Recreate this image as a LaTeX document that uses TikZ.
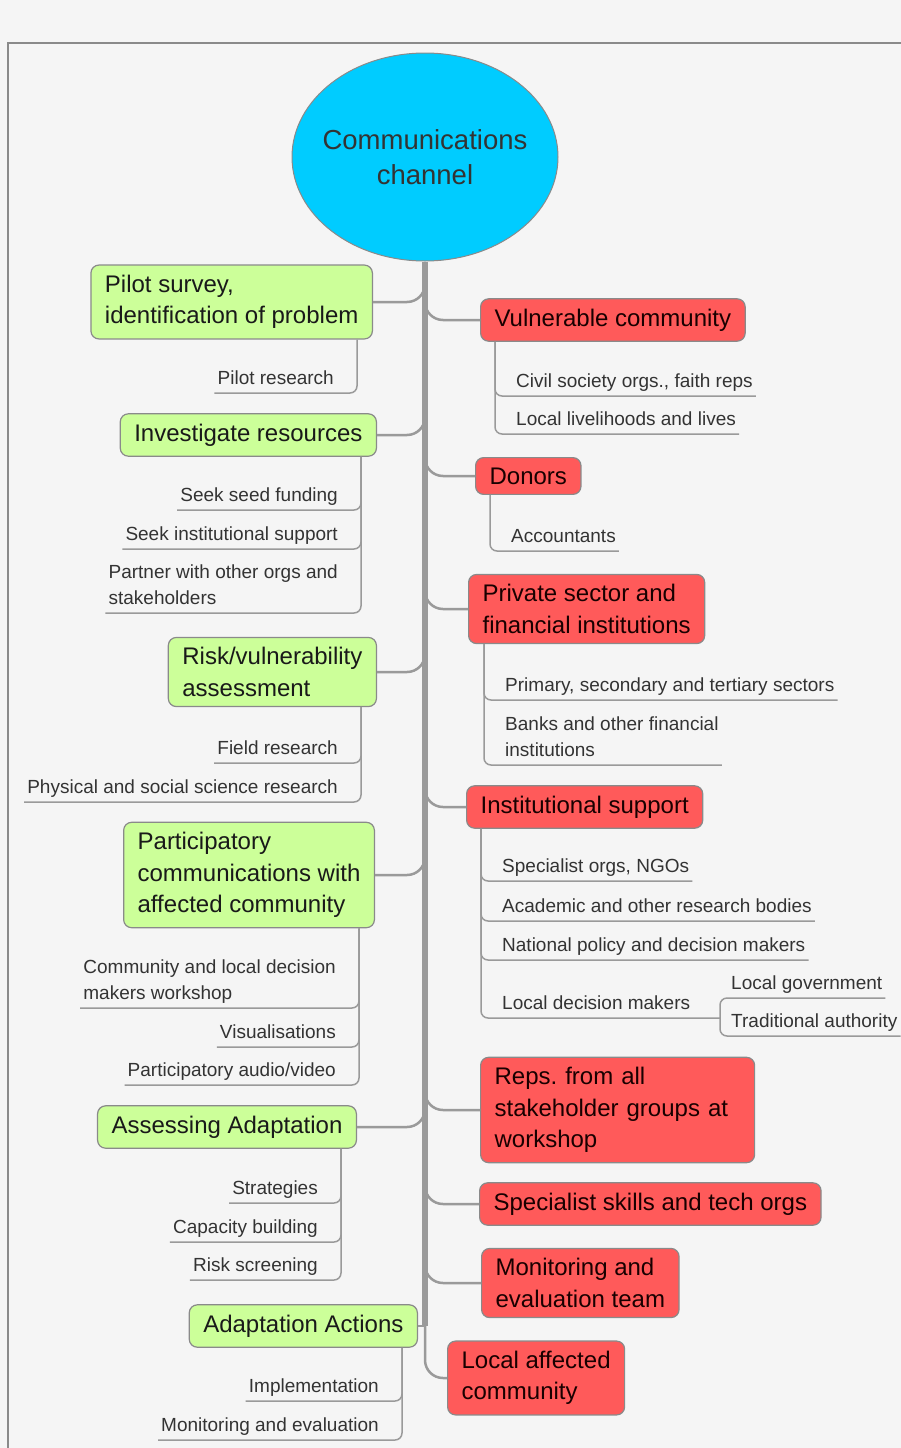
\documentclass[tikz,border=0pt]{standalone}
\usepackage{fontspec}
\setmainfont{Liberation Sans}
\usetikzlibrary{positioning,shapes.geometric,calc}
\definecolor{hubblue}{HTML}{00CCFF}
\definecolor{topicgreen}{HTML}{CCFF99}
\definecolor{stakered}{HTML}{FF5A5A}
\definecolor{linegray}{HTML}{9A9A9A}
\definecolor{edgegray}{HTML}{8A8A8A}
\definecolor{paper}{HTML}{F5F5F5}
\frenchspacing
\tikzset{
    hub/.style = {
        draw=edgegray,
        fill=hubblue,
        shape=ellipse,
        line width=1pt,
        inner sep=0pt,
        minimum width=266pt,
        minimum height=208pt,
        align=center,
        text=black!80,
        font=\fontsize{27.5}{35}\selectfont
    },
    topic/.style = {
        draw=edgegray,
        fill=topicgreen,
        shape=rectangle,
        rounded corners=8pt,
        line width=1.2pt,
        inner xsep=14pt,
        inner ysep=10pt,
        align=left,
        anchor=east,
        text=black!90,
        font=\fontsize{24}{31.5}\selectfont
    },
    stake/.style = {
        topic,
        fill=stakered,
        anchor=west,
        text=black!90!red
    },
    leaf/.style = {
        inner xsep=3pt,
        inner ysep=3.5pt,
        text depth=5pt,
        align=left,
        text=black!80,
        font=\fontsize{19}{26}\selectfont
    },
    leafl/.style = {leaf, anchor=south east},
    leafr/.style = {leaf, anchor=south west},
    trunk/.style = {draw=linegray, line width=6pt},
    limb/.style = {draw=linegray, line width=2.5pt, rounded corners=18pt},
    twig/.style = {draw=linegray, line width=1.5pt, rounded corners=7pt},
}

\begin{document}
\begin{tikzpicture}[x=1pt, y=-1pt]
    \useasboundingbox (0,0) rectangle (901,1448);
    \fill[paper] (0,0) rectangle (901,1448);
    \draw[edgegray, line width=2pt] (901,43) -- (8,43) -- (8,1448);

    \node[hub] (hub) at (425,157) {\makebox[150pt]{Communications}\\channel};

    % left side: steps
    \node[topic] (pilot) at (373,302) {Pilot survey,\\identification of problem};
    \node[topic] (invest) at (377,435) {Investigate resources};
    \node[topic] (risk) at (377,672) {Risk/vulnerability\\assessment};
    \node[topic] (partic) at (375,875) {Participatory\\communications with\\affected community};
    \node[topic] (assess) at (357,1127) {Assessing Adaptation};
    \node[topic] (actions) at (418,1326) {Adaptation Actions};

    % right side: stakeholders
    \node[stake] (vuln) at (480,320) {Vulnerable community};
    \node[stake] (donors) at (475,476) {Donors};
    \node[stake] (private) at (468,609) {Private sector and\\financial institutions};
    \node[stake] (instit) at (466,807) {Institutional support};
    \node[stake, text width=246pt] (reps) at (480,1110) {Reps. from all\\stakeholder groups at\\workshop};
    \node[stake] (spec) at (479,1204) {Specialist skills and tech orgs};
    \node[stake] (monit) at (481,1283) {Monitoring and\\evaluation team};
    \node[stake] (local) at (447,1378) {Local affected\\community};

    % trunk and branches
    \draw[trunk] (hub.south) -- (hub.south |- actions.east);
    \foreach \n in {pilot,invest,risk,partic,assess}
        \draw[limb] (\n.east) -| ($(hub.south |- \n.east)+(0,-30)$);
    \draw[limb] (actions.east) -- (hub.south |- actions.east);
    \foreach \n in {vuln,donors,private,instit,reps,spec,monit}
        \draw[limb] ($(hub.south |- \n.west)+(0,-30)$) |- (\n.west);
    \draw[limb] (hub.south |- actions.east) |- (local.west);

    % left leaves
    \coordinate (pilotv) at ($(pilot.south east)+(-16,0)$);
    \node[leafl] (pres) at (337,393) {Pilot research};

    \coordinate (investv) at ($(invest.south east)+(-16,0)$);
    \node[leafl] (seed) at (341,510) {Seek seed funding};
    \node[leafl] (support) at (341,549) {Seek institutional support};
    \node[leafl] (partner) at (341,613) {Partner with other orgs and\\stakeholders};

    \coordinate (riskv) at ($(risk.south east)+(-16,0)$);
    \node[leafl] (field) at (341,763) {Field research};
    \node[leafl] (science) at (341,802) {Physical and social science research};

    \coordinate (particv) at ($(partic.south east)+(-16,0)$);
    \node[leafl] (commws) at (339,1008) {Community and local decision\\makers workshop};
    \node[leafl] (visual) at (339,1047) {Visualisations};
    \node[leafl] (audio) at (339,1085) {Participatory audio/video};

    \coordinate (assessv) at ($(assess.south east)+(-16,0)$);
    \node[leafl] (strat) at (321,1203) {Strategies};
    \node[leafl] (capac) at (321,1242) {Capacity building};
    \node[leafl] (screen) at (321,1280) {Risk screening};

    \coordinate (actionsv) at ($(actions.south east)+(-16,0)$);
    \node[leafl] (impl) at (382,1401) {Implementation};
    \node[leafl] (monev) at (382,1440) {Monitoring and evaluation};

    \foreach \p/\n in {pilotv/pres, investv/seed, investv/support, investv/partner,
                       riskv/field, riskv/science, particv/commws, particv/visual,
                       particv/audio, assessv/strat, assessv/capac, assessv/screen,
                       actionsv/impl, actionsv/monev}
        \draw[twig] (\p) |- (\n.south west);

    % right leaves
    \coordinate (vulnv) at ($(vuln.south west)+(15,0)$);
    \node[leafr] (civil) at (513,396) {Civil society orgs., faith reps};
    \node[leafr] (liveli) at (513,434) {Local livelihoods and lives};

    \coordinate (donorsv) at ($(donors.south west)+(15,0)$);
    \node[leafr] (account) at (508,551) {Accountants};

    \coordinate (privatev) at ($(private.south west)+(16,0)$);
    \node[leafr] (sectors) at (502,700) {Primary, secondary and tertiary sectors};
    \node[leafr] (banks) at (502,765) {Banks and other financial\\institutions};

    \coordinate (institv) at ($(instit.south west)+(15,0)$);
    \node[leafr] (ngos) at (499,881) {Specialist orgs, NGOs};
    \node[leafr] (academic) at (499,921) {Academic and other research bodies};
    \node[leafr] (national) at (499,960) {National policy and decision makers};
    \node[leafr] (localdm) at (499,1018) {Local decision makers};
    \coordinate (ldmjoin) at (720,1018);
    \node[leafr] (locgov) at (728,998) {Local government};
    \node[leafr] (trad) at (728,1036) {Traditional authority};

    \foreach \p/\n in {vulnv/civil, vulnv/liveli, donorsv/account, privatev/sectors,
                       privatev/banks, institv/ngos, institv/academic, institv/national,
                       ldmjoin/locgov, ldmjoin/trad}
        \draw[twig] (\p) |- (\n.south east);
    \draw[twig] (institv) |- (ldmjoin);
\end{tikzpicture}
\end{document}
